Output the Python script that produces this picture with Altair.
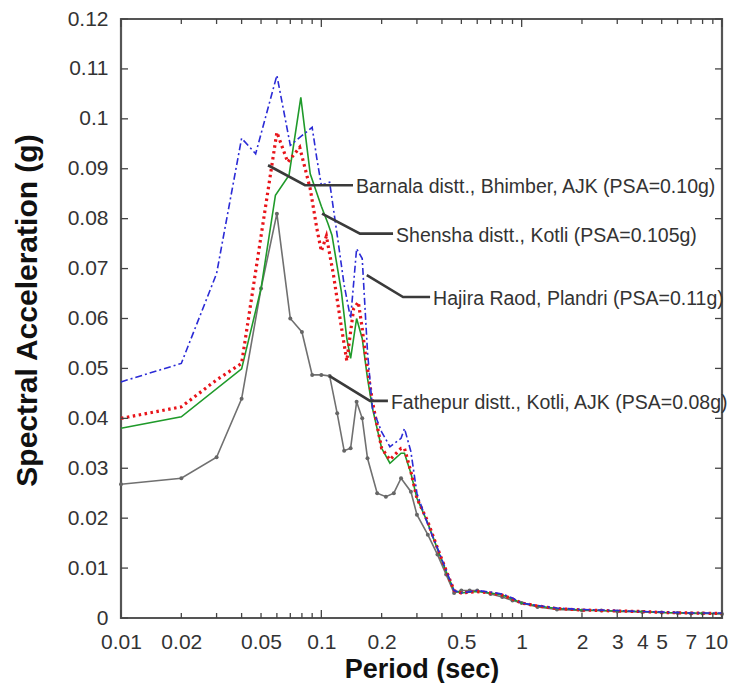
import altair as alt
import pandas as pd

FONT = "Liberation Sans"

# Fathepur distt., Kotli, AJK  (grey line with markers)
FATH_T = [0.01, 0.02, 0.03, 0.04, 0.05, 0.06, 0.07, 0.08, 0.09, 0.1, 0.11, 0.12, 0.13, 0.14, 0.15,
          0.16, 0.17, 0.19, 0.21, 0.23, 0.25, 0.28, 0.3, 0.34, 0.38, 0.42, 0.46, 0.5, 0.55, 0.6,
          0.7, 0.8, 0.9, 1.0, 1.2, 1.5, 2, 2.5, 3, 4, 5, 6, 7, 8, 10]
FATH_SA = [0.0268, 0.028, 0.0322, 0.0439, 0.066, 0.081, 0.060, 0.0573, 0.0487, 0.0487, 0.0485,
           0.041, 0.0335, 0.034, 0.0433, 0.040, 0.032, 0.025, 0.0243, 0.025, 0.028, 0.0253,
           0.0207, 0.0167, 0.0127, 0.0087, 0.005, 0.0055, 0.0055, 0.0055, 0.0048, 0.0042,
           0.0035, 0.003, 0.0022, 0.0017, 0.0015, 0.0015, 0.0013, 0.0012, 0.0011, 0.001,
           0.0009, 0.0009, 0.0008]

# Hajira Raod, Plandri  (blue dash-dot)
HAJ_T = [0.01, 0.02, 0.03, 0.04, 0.047, 0.06, 0.07, 0.075, 0.09, 0.095, 0.1, 0.11, 0.12, 0.13,
         0.14, 0.15, 0.16, 0.17, 0.18, 0.2, 0.22, 0.25, 0.26, 0.28, 0.3, 0.34, 0.38, 0.42, 0.46,
         0.5, 0.6, 0.7, 0.8, 0.9, 1.0, 1.2, 1.5, 2, 3, 4, 5, 7, 10]
HAJ_SA = [0.0473, 0.051, 0.069, 0.0961, 0.093, 0.1087, 0.0947, 0.0957, 0.0983, 0.092, 0.0867,
          0.0873, 0.0767, 0.0667, 0.06, 0.074, 0.072, 0.0533, 0.042, 0.0373, 0.0343, 0.036,
          0.038, 0.0333, 0.025, 0.0187, 0.014, 0.0095, 0.0055, 0.005, 0.0055, 0.0052, 0.0048,
          0.004, 0.003, 0.0025, 0.002, 0.0017, 0.0015, 0.0013, 0.0012, 0.001, 0.001]

# Barnala distt., Bhimber, AJK  (red dotted)
BAR_T = [0.01, 0.02, 0.03, 0.04, 0.06, 0.068, 0.078, 0.088, 0.095, 0.1, 0.106, 0.115, 0.124,
         0.134, 0.145, 0.153, 0.16, 0.167, 0.18, 0.2, 0.22, 0.25, 0.26, 0.28, 0.3, 0.34, 0.38,
         0.42, 0.46, 0.5, 0.6, 0.7, 0.8, 0.9, 1.0, 1.2, 1.5, 2, 3, 4, 5, 7, 10]
BAR_SA = [0.040, 0.0423, 0.0477, 0.051, 0.0973, 0.0913, 0.0943, 0.086, 0.078, 0.0735, 0.0765,
          0.0687, 0.060, 0.0515, 0.062, 0.0633, 0.058, 0.052, 0.0433, 0.034, 0.0317, 0.034,
          0.034, 0.0293, 0.024, 0.0193, 0.014, 0.0095, 0.0055, 0.005, 0.0053, 0.005, 0.0046,
          0.0038, 0.003, 0.0024, 0.0019, 0.0016, 0.0014, 0.0013, 0.0011, 0.001, 0.0009]

# Shensha distt., Kotli  (green solid)
SHE_T = [0.01, 0.02, 0.04, 0.05, 0.059, 0.069, 0.079, 0.088, 0.1, 0.108, 0.113, 0.119, 0.126,
         0.134, 0.14, 0.15, 0.16, 0.17, 0.18, 0.2, 0.22, 0.25, 0.26, 0.28, 0.3, 0.34, 0.38,
         0.42, 0.46, 0.5, 0.6, 0.7, 0.8, 0.9, 1.0, 1.2, 1.5, 2, 3, 4, 5, 7, 10]
SHE_SA = [0.038, 0.0403, 0.0499, 0.066, 0.0847, 0.0887, 0.1043, 0.089, 0.0825, 0.079, 0.0767,
          0.0713, 0.0653, 0.056, 0.052, 0.060, 0.056, 0.048, 0.042, 0.034, 0.031, 0.033, 0.033,
          0.029, 0.024, 0.019, 0.0138, 0.0093, 0.0055, 0.005, 0.0053, 0.005, 0.0046, 0.0038,
          0.003, 0.0024, 0.0019, 0.0016, 0.0014, 0.0013, 0.0011, 0.001, 0.0009]

# annotations: label text and leader-line points (data coordinates)
LABELS = ["Barnala distt., Bhimber, AJK (PSA=0.10g)",
          "Shensha distt., Kotli (PSA=0.105g)",
          "Hajira Raod, Plandri (PSA=0.11g)",
          "Fathepur distt., Kotli, AJK (PSA=0.08g)"]
LEADER_T = [[0.0542, 0.0829, 0.1439],
            [0.1008, 0.156, 0.228],
            [0.1686, 0.2558, 0.349],
            [0.1096, 0.175, 0.215]]
LEADER_SA = [[0.0907, 0.0867, 0.0867],
             [0.081, 0.077, 0.077],
             [0.0687, 0.0643, 0.0643],
             [0.0485, 0.0435, 0.0435]]

X_LABELS = [0.01, 0.02, 0.05, 0.1, 0.2, 0.5, 1, 2, 3, 4, 5, 7, 10]
Y_LABELS = [0, 0.01, 0.02, 0.03, 0.04, 0.05, 0.06, 0.07, 0.08, 0.09, 0.1, 0.11, 0.12]

W, H = 601, 599

xscale = alt.Scale(type="log", domain=[0.01, 10])
yscale = alt.Scale(domain=[0, 0.12])

xaxis = alt.Axis(values=X_LABELS, format="~g", labelFont=FONT, labelFontSize=21,
                 labelColor="#333", ticks=False, domain=False, grid=False,
                 labelPadding=13, labelFlush=False, labelOverlap=False,
                 labelOffset={"expr": "datum.value == 10 ? -6 : 0"},
                 title="Period (sec)", titleFont=FONT, titleFontSize=27,
                 titleFontWeight="bold", titleColor="#111", titleY=51,
                 titleBaseline="middle")
yaxis = alt.Axis(values=Y_LABELS, format="~g", labelFont=FONT, labelFontSize=21,
                 labelColor="#333", ticks=False, domain=False, grid=False,
                 labelPadding=13, labelFlush=False, labelOverlap=False,
                 title="Spectral Acceleration (g)", titleFont=FONT, titleFontSize=30,
                 titleFontWeight="bold", titleColor="#111", titleX=-94, titleY=291,
                 titleBaseline="middle")

def df(t, sa):
    return pd.DataFrame({"T": t, "SA": sa})

X = alt.X("T:Q", scale=xscale, axis=xaxis)
Y = alt.Y("SA:Q", scale=yscale, axis=yaxis)

gray_line = alt.Chart(df(FATH_T, FATH_SA)).mark_line(color="#707070", strokeWidth=1.6).encode(x=X, y=Y)
gray_pts = alt.Chart(df(FATH_T, FATH_SA)).mark_point(filled=True, color="#666666", size=16, opacity=1).encode(x=X, y=Y)
green = alt.Chart(df(SHE_T, SHE_SA)).mark_line(color="#1f9a2a", strokeWidth=1.6).encode(x=X, y=Y)
red = alt.Chart(df(BAR_T, BAR_SA)).mark_line(color="#e8141a", strokeWidth=3.2,
                                             strokeDash=[2.5, 3.5], strokeCap="butt").encode(x=X, y=Y)
blue = alt.Chart(df(HAJ_T, HAJ_SA)).mark_line(color="#2b2bd6", strokeWidth=1.6,
                                              strokeDash=[7, 3, 2, 3]).encode(x=X, y=Y)

# leader lines and labels
lead_rows = []
for i, (ts, ss) in enumerate(zip(LEADER_T, LEADER_SA)):
    for t, s in zip(ts, ss):
        lead_rows.append({"id": i, "T": t, "SA": s})
leaders = alt.Chart(pd.DataFrame(lead_rows)).mark_line(color="#3a3a3a", strokeWidth=2.6).encode(
    x=X, y=Y, detail="id:N")
text_df = pd.DataFrame({"T": [ts[-1] for ts in LEADER_T], "SA": [ss[-1] for ss in LEADER_SA],
                        "label": LABELS})
texts = alt.Chart(text_df).mark_text(align="left", baseline="middle", dx=3, dy=2, font=FONT,
                                     fontSize=19.5, color="#333").encode(x=X, y=Y, text="label:N")

# inside ticks (box style)
x_major = [0.01, 0.1, 1, 10]
x_minor = [m * d for d in [0.01, 0.1, 1] for m in range(2, 10)]
xt_major = alt.Chart(pd.DataFrame({"T": x_major}))
xt_minor = alt.Chart(pd.DataFrame({"T": x_minor}))
yt = alt.Chart(pd.DataFrame({"SA": Y_LABELS}))
tick_style = dict(color="#444", strokeWidth=1.3)
ticks = [
    xt_major.mark_rule(**tick_style).encode(x=X, y=alt.value(H), y2=alt.value(H - 8)),
    xt_major.mark_rule(**tick_style).encode(x=X, y=alt.value(0), y2=alt.value(8)),
    xt_minor.mark_rule(**tick_style).encode(x=X, y=alt.value(H), y2=alt.value(H - 5)),
    xt_minor.mark_rule(**tick_style).encode(x=X, y=alt.value(0), y2=alt.value(5)),
    yt.mark_rule(**tick_style).encode(y=Y, x=alt.value(0), x2=alt.value(7)),
    yt.mark_rule(**tick_style).encode(y=Y, x=alt.value(W), x2=alt.value(W - 7)),
]

chart = alt.layer(gray_line, gray_pts, green, red, blue, leaders, texts, *ticks).properties(
    width=W, height=H,
    autosize=alt.AutoSizeParams(type="none"),
    padding={"left": 113, "top": 11, "right": 6, "bottom": 65},
    background="white",
).configure_view(stroke="#555", strokeWidth=2.2)

chart.save("out.html", embed_options={"renderer": "svg", "actions": False})
